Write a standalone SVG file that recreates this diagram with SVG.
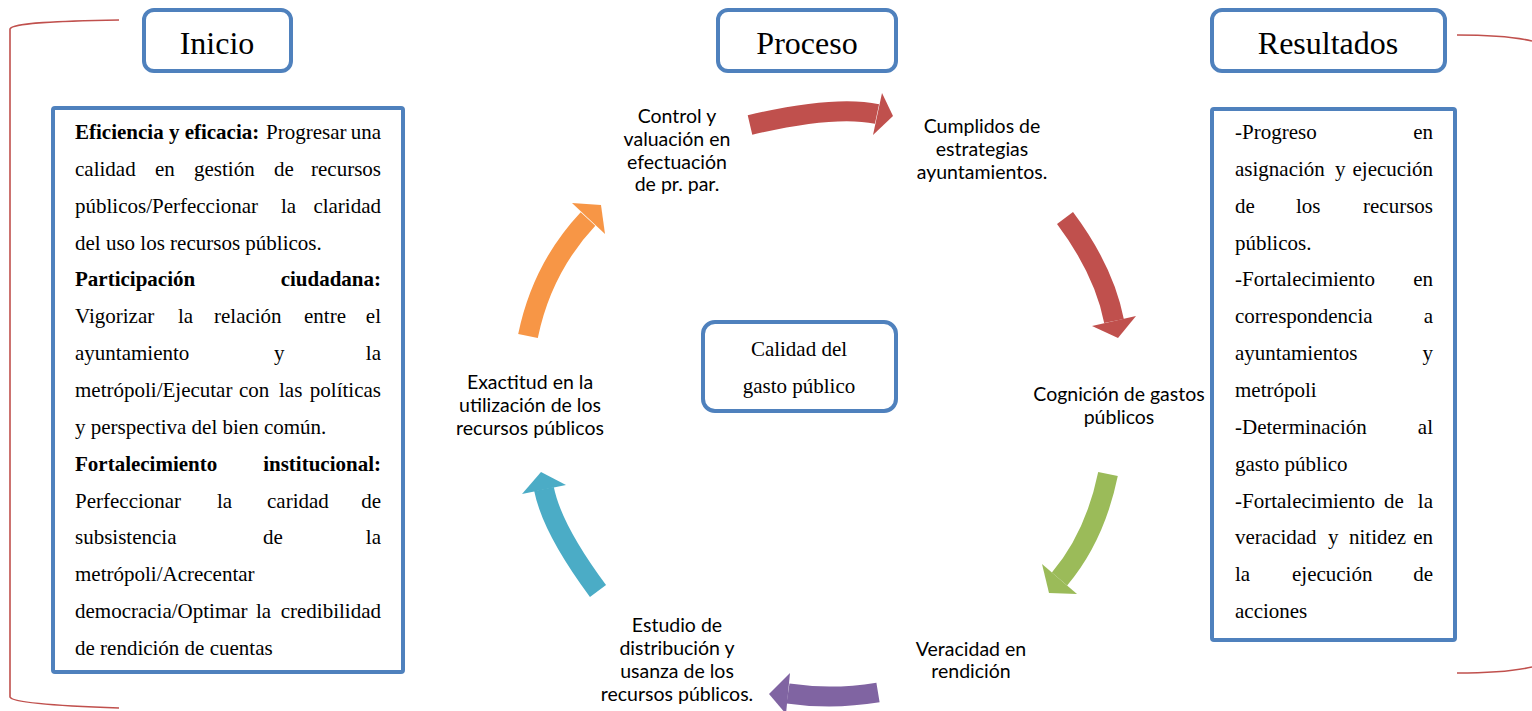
<svg xmlns="http://www.w3.org/2000/svg" width="1532" height="711" viewBox="0 0 1532 711">
<style>
.hdr{fill:#fff;stroke:#4F81BD;stroke-width:4}
.box{fill:#fff;stroke:#4F81BD;stroke-width:4}
.ht{font-family:"Liberation Serif","Times New Roman",serif;font-size:32px;fill:#000;text-anchor:middle}
.tb{font-family:"Liberation Serif","Times New Roman",serif;font-size:21px;fill:#000}
.b{font-weight:bold}
.e{text-anchor:end}
.lb{font-family:Lato,"Liberation Sans",sans-serif;font-size:19.5px;fill:#000;text-anchor:middle}
.ct{font-family:"Liberation Serif","Times New Roman",serif;font-size:21px;fill:#000;text-anchor:middle}
.br{fill:none;stroke:#C0504D;stroke-width:1.6}
.shaft{fill:none;stroke-width:20;stroke-linecap:butt}
</style>
<rect width="1532" height="711" fill="#fff"/>

<g id="brackets">
<path class="br" d="M119,20 C60,21 12,23 10,29 L10,697 C12,703 60,706 119,708"/>
<path class="br" d="M1457,35 C1490,35 1515,37 1532,41"/>
<path class="br" d="M1457,673 C1490,673 1515,671 1532,667"/>
</g>

<g id="inicio">
<rect class="hdr" x="144" y="10" width="147" height="61" rx="10"/>
<text class="ht" x="217" y="54">Inicio</text>
</g>
<g id="proceso">
<rect class="hdr" x="718" y="10" width="178" height="61" rx="10"/>
<text class="ht" x="807" y="54">Proceso</text>
</g>
<g id="resultados">
<rect class="hdr" x="1212" y="10" width="233" height="61" rx="10"/>
<text class="ht" x="1328" y="54">Resultados</text>
</g>

<g id="inicio-texto">
<rect class="box" x="53" y="108" width="350" height="564" rx="2"/>
<g class="tb">
<text x="75" y="139"><tspan class="b">Eficiencia y eficacia:</tspan></text><text x="266" y="139">Progresar</text><text class="e" x="381" y="139">una</text>
<text x="75" y="176">calidad</text><text x="155" y="176">en</text><text x="194" y="176">gestión</text><text x="274" y="176">de</text><text class="e" x="381" y="176">recursos</text>
<text x="75" y="213">públicos/Perfeccionar</text><text x="281" y="213">la</text><text class="e" x="381" y="213">claridad</text>
<text x="75" y="250">del uso los recursos públicos.</text>
<text class="b" x="75" y="286">Participación</text><text class="b e" x="381" y="286">ciudadana:</text>
<text x="75" y="323">Vigorizar</text><text x="178" y="323">la</text><text x="214" y="323">relación</text><text x="304" y="323">entre</text><text class="e" x="381" y="323">el</text>
<text x="75" y="360">ayuntamiento</text><text x="274" y="360">y</text><text class="e" x="381" y="360">la</text>
<text x="75" y="397">metrópoli/Ejecutar</text><text x="239" y="397">con</text><text x="279" y="397">las</text><text class="e" x="381" y="397">políticas</text>
<text x="75" y="434">y perspectiva del bien común.</text>
<text class="b" x="75" y="471">Fortalecimiento</text><text class="b e" x="381" y="471">institucional:</text>
<text x="75" y="508">Perfeccionar</text><text x="217" y="508">la</text><text x="267" y="508">caridad</text><text class="e" x="381" y="508">de</text>
<text x="75" y="544">subsistencia</text><text x="263" y="544">de</text><text class="e" x="381" y="544">la</text>
<text x="75" y="581">metrópoli/Acrecentar</text>
<text x="75" y="618">democracia/Optimar</text><text x="256" y="618">la</text><text class="e" x="381" y="618">credibilidad</text>
<text x="75" y="655">de rendición de cuentas</text>
</g>
</g>

<g id="resultados-texto">
<rect class="box" x="1212" y="109" width="243" height="531" rx="2"/>
<g class="tb">
<text x="1235" y="139">-Progreso</text><text class="e" x="1433" y="139">en</text>
<text x="1235" y="176">asignación</text><text x="1335" y="176">y</text><text class="e" x="1433" y="176">ejecución</text>
<text x="1235" y="213">de</text><text x="1296" y="213">los</text><text class="e" x="1433" y="213">recursos</text>
<text x="1235" y="250">públicos.</text>
<text x="1235" y="286">-Fortalecimiento</text><text class="e" x="1433" y="286">en</text>
<text x="1235" y="323">correspondencia</text><text class="e" x="1433" y="323">a</text>
<text x="1235" y="360">ayuntamientos</text><text class="e" x="1433" y="360">y</text>
<text x="1235" y="397">metrópoli</text>
<text x="1235" y="434">-Determinación</text><text class="e" x="1433" y="434">al</text>
<text x="1235" y="471">gasto público</text>
<text x="1235" y="508">-Fortalecimiento</text><text x="1384" y="508">de</text><text class="e" x="1433" y="508">la</text>
<text x="1235" y="544">veracidad</text><text x="1328" y="544">y</text><text x="1349" y="544">nitidez</text><text class="e" x="1433" y="544">en</text>
<text x="1235" y="581">la</text><text x="1292" y="581">ejecución</text><text class="e" x="1433" y="581">de</text>
<text x="1235" y="618">acciones</text>
</g>
</g>

<g id="centro">
<rect class="hdr" x="703" y="322" width="193" height="89" rx="12"/>
<text class="ct" x="799" y="356">Calidad del</text>
<text class="ct" x="799" y="393">gasto público</text>
</g>

<g id="connectors">
<g fill="#C0504D" stroke="#C0504D">
<path class="shaft" d="M750,125 Q835,105 877,114"/>
<polygon stroke="none" points="882,93 893,116 873,135"/>
<path class="shaft" d="M1065,218 Q1104,270 1114,321"/>
<polygon stroke="none" points="1092,326 1118,338 1136,316"/>
</g>
<g fill="#9BBB59" stroke="#9BBB59">
<path class="shaft" d="M1108,474 Q1095,537 1059.5,579"/>
<polygon stroke="none" points="1042,564 1049,593 1077,594"/>
</g>
<g fill="#8064A2" stroke="#8064A2">
<path class="shaft" d="M878,692.5 Q832,700 788,693.5"/>
<polygon stroke="none" points="790,673 769,694 786,714"/>
</g>
<g fill="#4BACC6" stroke="#4BACC6">
<path class="shaft" d="M598,591 Q552,529 544,489"/>
<polygon stroke="none" points="522,494 541,472 566,485"/>
</g>
<g fill="#F79646" stroke="#F79646">
<path class="shaft" d="M528,336 Q542,268 588,219"/>
<polygon stroke="none" points="572,203 601,205 605,234"/>
</g>
</g>

<g id="paso-control">
<text class="lb" x="677" y="123">Control y</text>
<text class="lb" x="677" y="146">valuación en</text>
<text class="lb" x="677" y="169">efectuación</text>
<text class="lb" x="677" y="191">de pr. par.</text>
</g>
<g id="paso-cumplidos">
<text class="lb" x="982" y="133">Cumplidos de</text>
<text class="lb" x="982" y="156">estrategias</text>
<text class="lb" x="982" y="179">ayuntamientos.</text>
</g>
<g id="paso-cognicion">
<text class="lb" x="1119" y="401">Cognición de gastos</text>
<text class="lb" x="1119" y="424">públicos</text>
</g>
<g id="paso-veracidad">
<text class="lb" x="971" y="656">Veracidad en</text>
<text class="lb" x="971" y="678">rendición</text>
</g>
<g id="paso-estudio">
<text class="lb" x="677" y="632">Estudio de</text>
<text class="lb" x="677" y="655">distribución y</text>
<text class="lb" x="677" y="678">usanza de los</text>
<text class="lb" x="677" y="701">recursos públicos.</text>
</g>
<g id="paso-exactitud">
<text class="lb" x="530" y="389">Exactitud en la</text>
<text class="lb" x="530" y="412">utilización de los</text>
<text class="lb" x="530" y="435">recursos públicos</text>
</g>
</svg>
